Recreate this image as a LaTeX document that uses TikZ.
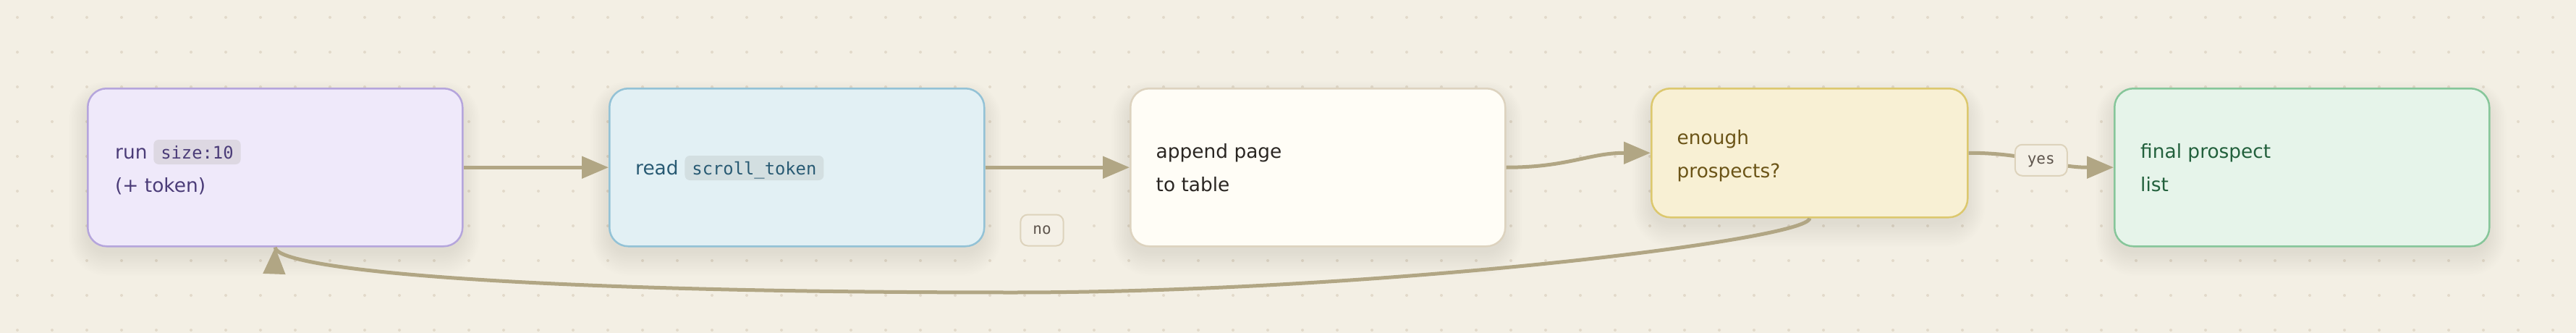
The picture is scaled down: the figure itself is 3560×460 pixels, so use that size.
\documentclass[tikz,border=0pt]{standalone}
\usepackage{fontspec}
\setmainfont{DejaVu Sans}
\newfontfamily\monofont{DejaVu Sans Mono}
\usetikzlibrary{arrows.meta}
\definecolor{bgc}{HTML}{F3EFE4}
\definecolor{dotc}{HTML}{E2DACA}
\definecolor{edgec}{HTML}{B1A684}
\definecolor{shadowc}{HTML}{6A5834}
\definecolor{fillA}{HTML}{EFE9FA}\definecolor{lineA}{HTML}{B5A5DC}\definecolor{textA}{HTML}{4B3C78}\definecolor{pillA}{HTML}{DDD8E2}
\definecolor{fillB}{HTML}{E2F0F4}\definecolor{lineB}{HTML}{93C2D6}\definecolor{textB}{HTML}{285A73}\definecolor{pillB}{HTML}{D3DFE1}
\definecolor{fillC}{HTML}{FFFDF6}\definecolor{lineC}{HTML}{DDD3BF}\definecolor{textC}{HTML}{2A2622}
\definecolor{fillD}{HTML}{F8F0D4}\definecolor{lineD}{HTML}{DCC86E}\definecolor{textD}{HTML}{6B5417}
\definecolor{fillE}{HTML}{E6F4EA}\definecolor{lineE}{HTML}{86C69A}\definecolor{textE}{HTML}{22603C}
\definecolor{lblfill}{HTML}{F4F0E6}\definecolor{lblline}{HTML}{DDD3BC}\definecolor{lbltext}{HTML}{5D544C}
\newcommand\boxshadow[4]{%
  \foreach \i [evaluate=\i as \r using 26+1.5*\i] in {0,...,18}{%
    \fill[shadowc, opacity=0.0035, rounded corners=\r pt]
      ({#1-1.4*\i},{#2+16-1.4*\i}) rectangle ({#1+#3+1.4*\i},{#2+#4+10+1.8*\i});}}
\tikzset{
  box/.style={line width=2.5pt, rounded corners=26pt, minimum width=518pt,
    minimum height=218pt, inner sep=0pt, anchor=north west},
  txt/.style={inner sep=0pt, anchor=base west, font=\fontsize{26.4}{46}\selectfont},
  codepill/.style={inner xsep=10pt, inner ysep=4pt, text height=22pt, text depth=4pt,
    rounded corners=7pt, anchor=base west, font=\monofont\fontsize{23.8}{28}\selectfont},
  lbl/.style={draw=lblline, fill=lblfill, line width=2pt, rounded corners=10pt,
    inner xsep=17pt, inner ysep=12pt, text height=15pt, text depth=4pt,
    text=lbltext, font=\monofont\fontsize{21}{24}\selectfont},
  edge/.style={draw=edgec, line width=5pt, -{Triangle[length=37pt,width=30pt]}},
  plainedge/.style={draw=edgec, line width=5pt}
}
\begin{document}
\begin{tikzpicture}[x=1pt,y=-1pt]
\useasboundingbox (0,0) rectangle (3560,460);
\fill[bgc] (0,0) rectangle (3560,460);
\foreach \x in {24,72,...,3552} \foreach \y in {24,72,...,456} \fill[dotc] (\x,\y) circle (2pt);

\boxshadow{120}{121}{518}{218}
\boxshadow{841}{121}{518}{218}
\boxshadow{1561}{121}{518}{218}
\boxshadow{2281}{121}{437}{178}
\boxshadow{2921}{121}{518}{218}

\node[box, draw=lineA, fill=fillA] (b1) at (120,121) {};
\node[box, draw=lineB, fill=fillB] (b2) at (841,121) {};
\node[box, draw=lineC, fill=fillC] (b3) at (1561,121) {};
\node[box, draw=lineD, fill=fillD, minimum width=437pt, minimum height=178pt] (b4) at (2281,121) {};
\node[box, draw=lineE, fill=fillE] (b5) at (2921,121) {};

\node[txt, text=textA] (t1a) at (159,219) {run};
\node[codepill, fill=pillA, text=textA] (c1) at ([xshift=8.4pt]t1a.base east) {size:10};
\node[txt, text=textA] (t1b) at (159,265) {(+ token)};

\node[txt, text=textB] (t2a) at (878,241) {read};
\node[codepill, fill=pillB, text=textB] (c2) at ([xshift=8.4pt]t2a.base east) {scroll\_token};

\node[txt, text=textC] (t3a) at (1597.5,218) {append page};
\node[txt, text=textC] (t3b) at (1597.5,264) {to table};

\node[txt, text=textD] (t4a) at (2317.5,199.5) {enough};
\node[txt, text=textD] (t4b) at (2317.5,245.5) {prospects?};

\node[txt, text=textE] (t5a) at (2958,218) {final prospect};
\node[txt, text=textE] (t5b) at (2958,264) {list};

\draw[edge] (b1.east) -- (b2.west);
\draw[edge] (b2.east) -- (b3.west);
\draw[edge] (b3.east) .. controls +(85,0) and +(-85,0) .. (b4.west);
\draw[edge] (b4.east) .. controls +(85,0) and +(-85,0) .. node[lbl] (yes) {yes} (b5.west);

\coordinate (loopmid) at (1400,404);
\coordinate (looptip) at (379,376);
\draw[plainedge] (b4.south) .. controls +(0,30) and +(500,0) .. (loopmid)
   .. controls +(-700,0) and +(0,30) .. (b1.south);
\draw[edge] (looptip) -- (b1.south);
\node[lbl] (no) at (1440,318) {no};
\end{tikzpicture}
\end{document}
